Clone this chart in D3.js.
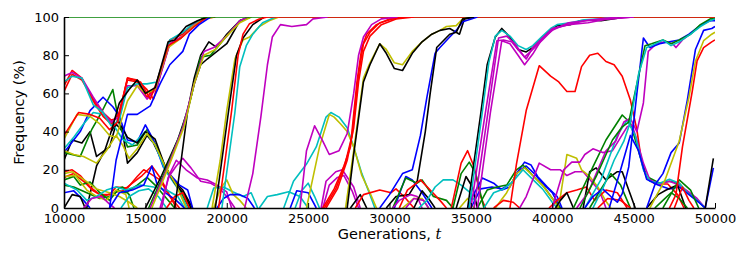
<!DOCTYPE html>
<html>
<head>
<meta charset="utf-8">
<script src="https://cdn.jsdelivr.net/npm/d3@7"></script>
<style>
  body { margin: 0; background: #fff; }
  svg { display: block; }
</style>
</head>
<body>
<script>
// allele frequency trajectories, t in thousands of generations, f in %
// each entry: [colour key, [[t, f], ...]]
const xTicks = [10000, 15000, 20000, 25000, 30000, 35000, 40000, 45000, 50000]
const yTicks = [0, 20, 40, 60, 80, 100]

const driftB = [
  ['k', [[10,25],[10.5,35.6],[11.1,34],[11.6,40],[12,27],[12.8,32],[13.2,44],[13.6,40],[13.9,23.5],[14.5,29],[15.1,38],[15.5,34],[16.1,23.5],[16.7,14.7],[17.3,9.4],[17.9,0]]],
  ['g', [[10,29],[11,27],[11.7,41],[12.3,50],[13,62],[13.4,44],[13.9,32],[14.5,33],[15.1,41],[15.7,32],[16.3,20],[17,11],[17.7,0]]],
  ['b', [[10,29],[11,40],[11.6,51],[12.4,58],[13,53],[13.4,48],[13.9,35.6],[14.5,34.5],[15,43.5],[15.5,35.6],[16.1,21.5],[17.1,12],[17.6,9.4],[17.9,0]]],
  ['c', [[10,31],[10.6,37],[11.2,44],[11.8,50],[12.4,49],[13,44],[13.6,36],[14.2,33],[15,40],[15.6,33],[16.2,20],[17,10],[17.6,0]]],
  ['k', [[11.4,0],[12,22],[12.5,30],[12.9,40],[13.3,46],[13.9,37],[14.5,34],[15,40],[15.6,36],[16.2,22],[16.8,13],[17.4,7],[17.8,0]]],
  ['y', [[10,30],[10.6,28],[11.2,27],[12,23.5],[12.6,30],[13.2,38],[13.6,33],[14,26],[14.5,31],[15.1,39],[15.6,33],[16.2,22],[16.9,12],[17.5,0]]]
]

const lowEarly = [
  ['r', [[10,19],[10.5,20],[11,17],[11.6,11],[12.2,7],[12.8,7],[13.2,11],[13.9,10.5],[14.5,16.5],[14.9,20],[15.3,18],[15.9,14.7],[16.5,6],[17.1,0]]],
  ['r', [[10,16],[10.6,18],[11.2,14],[11.8,9],[12.4,6],[13,8],[13.6,9],[14.2,13],[14.8,17],[15.4,22],[15.9,16],[16.4,8],[16.9,0]]],
  ['g', [[10,14.7],[10.6,16.5],[11,12],[11.6,13.6],[12.2,8],[12.8,4],[13.4,10.5],[13.6,11],[14,7],[14.3,0]]],
  ['g', [[10,12],[10.6,11],[11.4,8],[12.2,5],[12.8,6],[13.3,9],[13.8,8],[14.5,12],[15.1,16],[15.6,12],[16.2,6],[16.8,0]]],
  ['y', [[10,16.5],[10.7,17],[11.4,9.4],[12,6],[12.6,4],[13.2,9.4],[13.8,7],[14,0]]],
  ['y', [[10,18],[10.5,19],[11.2,15],[12,10],[12.8,8],[13.4,6],[14,3],[14.5,0]]],
  ['c', [[10,13],[10.8,9.4],[11.4,4],[12,6],[12.6,9.4],[13.2,11],[13.8,9.4],[14.7,12],[15.5,11],[16.3,9.4],[17,6],[17.4,0]]],
  ['b', [[10,8],[10.6,9],[11.2,4],[11.6,0]]],
  ['k', [[10,0],[10.5,7],[11,6],[11.3,0]]],
  ['m', [[11.2,0],[11.7,5],[12.3,6],[12.8,2],[13.1,0]]],
  ['b', [[12.8,0],[13.4,8],[14.2,9.4],[14.9,12],[15.4,22],[15.7,13],[16.3,7.5],[16.9,4],[17.4,0]]],
  ['c', [[13.5,0],[14,6],[14.6,9],[15.2,10],[15.8,6],[16.3,0]]],
  ['m', [[15.9,0],[16.5,18],[16.9,25],[17.5,20],[18.2,15.7],[18.8,14.7],[19.4,12],[20,8.4],[20.3,0]]],
  ['m', [[16,0],[16.4,16],[16.9,22],[17.3,26],[17.8,21],[18.4,14],[19,13],[19.6,10],[20.1,5],[20.5,0]]],
  ['r', [[16.3,0],[16.8,6],[17.3,8],[17.7,0]]],
  ['c', [[18.8,0],[19.2,10.5],[19.8,11],[20.4,8.4],[21,6],[21.5,8],[21.9,0]]],
  ['y', [[19.2,0],[19.6,10],[20,14.7],[20.4,7],[20.8,4],[21.2,0]]],
  ['b', [[19.4,0],[19.8,5],[20.2,7],[20.8,7],[21.3,5],[21.7,0]]]
]

const sweepA = [
  ['r', [[10,61],[10.5,70],[11.1,67],[11.8,57],[12.4,50],[12.9,46],[13.3,47],[13.9,67],[14.5,66],[15.1,58],[15.7,64],[16.5,86],[17.3,90],[17.9,95],[18.5,99],[19.3,100]]],
  ['r', [[10,64],[10.5,72],[11.1,68],[11.8,56],[12.4,48],[12.9,44],[13.4,50],[13.9,68],[14.5,67],[15.1,62],[15.5,57],[15.8,66],[16.5,88],[17.3,91],[17.9,96],[18.7,100]]],
  ['m', [[10,69],[10.5,71],[11.1,68],[11.8,58],[12.4,50],[12.9,45],[13.4,48],[13.9,64],[14.5,64],[15.1,57],[15.7,63],[16.5,86],[17.3,90],[18,96],[18.8,100]]],
  ['c', [[10,66],[10.5,69],[11.1,68],[11.8,54],[12.4,50],[12.9,43],[13.4,46],[13.9,63],[14.5,65],[15.1,65],[15.7,66],[16.5,88],[17.3,92],[18,97],[18.8,100]]],
  ['y', [[10,36],[10.8,49],[11.6,48],[12.2,44],[12.8,38],[13.2,37],[13.9,56],[14.5,64],[15,60],[15.6,62],[16.4,84],[17.2,89],[17.9,95],[18.6,99],[19.2,100]]],
  ['r', [[10,38],[10.9,50],[11.6,49],[12.2,47],[12.8,41],[13.3,45],[13.9,68],[14.7,66],[15.3,57],[15.7,66],[16.4,85],[17.2,89],[18,95],[18.8,100]]],
  ['k', [[12.9,40],[13.4,55],[14,62],[14.5,67],[15,60],[15.6,63],[16.4,87],[16.8,88],[17.5,95],[18.2,98],[18.8,100]]],
  ['b', [[12.8,0],[13.2,25],[13.9,49],[14.5,49],[15.3,53.5],[15.9,65],[16.5,75],[17.3,82],[17.7,91],[18.3,96],[19,100]]]
]

const sweepC = [
  ['k', [[15,0],[16,17],[17,36],[17.6,51],[18,68],[18.4,80],[18.9,87],[19.4,84],[20,91],[20.8,98],[21.4,100]]],
  ['k', [[16.8,0],[17.2,25],[17.6,51],[18,65],[18.4,75],[18.8,78],[19.4,82],[20,86],[20.8,98],[21.5,100]]],
  ['g', [[15.2,0],[16.2,19],[17.2,40],[17.8,58],[18.4,79],[19,80],[19.4,84],[20,90],[20.8,98],[21.4,100]]],
  ['m', [[15.3,0],[16.3,20],[17.3,42],[17.9,62],[18.6,82],[19.2,84],[20,90],[20.8,98],[21.3,100]]],
  ['y', [[15.4,0],[16.4,21],[17.4,43],[18,65],[18.6,80],[19.3,83],[20,90],[20.8,97],[21.5,100]]]
]

const fixedTop = [
  ['g', [[10,100],[50,100]]]
]

const sweepD = [
  ['y', [[19.1,0],[19.6,25],[20,51],[20.5,78],[21,88],[21.4,89.5],[22,95],[22.6,98],[23.2,100]]],
  ['k', [[19.3,0],[19.7,25],[20.1,50],[20.6,80],[21,89],[21.6,96],[22.3,100]]],
  ['c', [[19.7,0],[20.1,25],[20.5,50],[20.8,74],[21.2,85],[21.6,91],[22.2,97],[23,100]]],
  ['r', [[19.5,0],[19.9,25],[20.3,51],[20.7,80],[21,91],[21.4,96.5],[22,99],[22.5,100],[50,100]]]
]

const mid = [
  ['m', [[21.1,0],[21.6,18],[22.1,48],[22.5,75],[22.8,89.5],[23.3,96],[24,95],[24.9,96],[25.3,99],[26.2,100]]],
  ['c', [[22,0],[22.5,6],[23.1,7],[23.8,8.5],[24.5,6],[25,0]]],
  ['c', [[24.2,0],[24.6,9],[25,13],[25.4,6],[25.7,0]]],
  ['b', [[23.9,0],[24.3,9],[25,8],[25.5,0]]],
  ['c', [[23.5,0],[24.1,14],[24.9,23],[25.5,32],[26.1,47.6],[26.4,50],[26.9,47.6],[27.4,42],[27.8,32],[28.3,18],[28.8,7],[29.1,0]]],
  ['y', [[24.9,0],[25.3,16],[25.7,32],[26.3,49],[26.6,47.6],[27,44],[27.4,40],[27.8,32],[28.3,17],[28.8,8],[29.2,0]]],
  ['m', [[25.8,0],[26.1,14],[26.7,19],[27.1,20],[27.8,11],[28.2,0]]],
  ['m', [[25.9,0],[26.3,12],[26.8,16],[27.2,17],[27.7,9],[28.1,0]]],
  ['k', [[27.6,0],[28.2,7],[28.6,0]]],
  ['r', [[27.9,0],[28.4,7],[29.4,9.4],[30.1,8],[30.4,10],[31,5],[31.5,0]]],
  ['r', [[25.9,0],[26.6,10],[27.2,22],[27.6,32],[28,66],[28.3,84],[28.6,91],[29.2,96],[30,99],[31,100]]],
  ['r', [[26,0],[26.7,10],[27.3,24],[27.7,38],[28.1,70],[28.4,86],[28.8,92],[29.4,97],[30.2,99],[31,100]]],
  ['r', [[26.1,0],[26.8,10],[27.4,25],[27.8,42],[28.1,66],[28.4,82],[28.8,90],[29.5,96],[30.4,99],[31.5,100]]],
  ['m', [[24.5,0],[24.9,30],[25.4,43],[25.9,35],[26.3,28],[26.9,30],[27.4,39],[27.8,60],[28.1,80],[28.4,89.5],[28.9,96],[29.5,99],[30.5,100]]],
  ['y', [[27.3,0],[27.8,30],[28.4,68],[28.8,76],[29.4,86],[29.8,83],[30.3,76],[30.8,75],[31.4,82],[32,87],[32.6,91],[33.1,93],[33.5,95],[34.1,95.5],[34.5,99],[35,100]]],
  ['k', [[27.4,0],[27.8,28],[28.4,66],[28.8,75],[29.4,86],[29.8,81],[30.3,73],[30.8,72],[31.4,81],[32,87],[32.6,91],[33.1,93],[33.7,94],[34.3,91],[34.6,99],[35.2,100]]],
  ['b', [[29.4,0],[30,7],[30.8,18],[31.4,20],[31.9,38],[32.3,58],[32.8,81],[33.1,84],[33.7,89.5],[34.1,93],[34.5,97.5],[35.4,100]]],
  ['k', [[29.8,0],[30.4,6],[31.2,7],[31.7,14],[32.2,40],[32.5,60],[32.9,84],[33.7,91],[34.1,92],[34.5,99],[35.2,100]]]
]

const lowMid = [
  ['b', [[30.3,0],[31,16.5],[31.4,14.7],[32,8],[32.6,0]]],
  ['g', [[30.2,0],[30.5,6],[31,15.7],[31.7,13],[32,14.7],[32.7,6],[33.5,4],[33.9,0]]],
  ['r', [[30.6,0],[31.1,9.4],[31.5,12],[31.9,14.7],[32.5,9.4],[33.1,4],[33.5,0]]],
  ['m', [[30.2,0],[30.6,4],[31.3,7],[31.7,6],[32,0]]],
  ['y', [[30.8,0],[31.5,5],[32,5],[32.4,0]]],
  ['m', [[31,0],[31.5,5],[32.1,4],[32.4,0]]],
  ['k', [[31.5,0],[32,9],[32.4,5],[32.8,0]]],
  ['c', [[31.8,0],[32.3,4],[32.8,11],[33.3,14.7],[33.9,14.7],[34.4,12],[34.9,8.4],[35.5,0]]],
  ['r', [[33.8,0],[34.4,23.5],[34.8,30],[35.2,21.5],[35.6,6],[35.9,0]]],
  ['g', [[33.9,0],[34.4,18],[34.9,24],[35.3,18],[35.8,0]]],
  ['k', [[34.1,0],[34.7,16.5],[35.1,11],[35.4,0]]],
  ['y', [[34.3,0],[34.8,5],[35.2,0]]],
  ['b', [[34.8,0],[35.1,6],[35.7,15.7],[36.4,13],[36.9,9.4],[37.4,11],[37.8,18],[38.3,24],[38.7,22.5],[39.1,16.5],[39.7,11],[40.3,6],[40.6,0]]],
  ['b', [[35,0],[35.6,10],[36.3,11],[36.9,10],[37.5,13],[37.9,19],[38.4,22],[38.9,18],[39.4,13],[40,8],[40.5,0]]],
  ['g', [[35.4,0],[36,9.4],[36.6,11],[37.2,12],[37.8,20],[38.2,22.5],[38.8,17],[39.5,11],[40.1,4],[40.5,0]]],
  ['y', [[36.5,0],[37.2,8],[37.8,18],[38.3,21],[38.8,17],[39.4,12],[40,5],[40.4,0]]],
  ['c', [[35.8,0],[36.4,8],[37,10],[37.6,14],[38.2,20],[38.8,15],[39.4,10],[40,3],[40.3,0]]],
  ['r', [[36.4,0],[37,4],[37.6,3],[38,0]]],
  ['m', [[38,0],[38.4,6],[39.2,23.5],[39.9,20],[40.5,20],[40.9,17],[41.4,19],[41.9,19],[42.4,14],[42.9,9],[43.3,0]]],
  ['y', [[40.3,0],[40.5,6],[40.9,28],[41.5,26],[41.8,20],[42.3,16.5],[42.8,11],[43.3,3.5],[43.6,0]]],
  ['r', [[39.8,0],[40.3,4],[40.9,8],[41.5,9.4],[42.1,11],[42.6,4],[43.3,9.4],[44,8],[44.6,0]]],
  ['k', [[40.2,0],[40.5,4],[40.9,8],[41.3,0]]],
  ['k', [[41.9,0],[42.3,19],[42.7,21],[43.3,14.7],[44,19],[44.3,19],[44.7,9.4],[45.1,0]]],
  ['g', [[42.3,0],[43,10],[43.6,18],[44.2,12],[44.8,0]]],
  ['r', [[42.8,0],[43.4,5],[44.2,4],[44.8,0]]]
]

const sweepI = [
  ['k', [[34.8,0],[35.6,49],[36,75],[36.5,89.5],[36.9,94],[37.4,89.5],[37.9,83],[38.4,81.7],[38.8,84],[39.4,89.5],[39.9,93],[40.3,95.5],[41.1,96],[41.7,98],[42.3,98.5],[43,98],[43.7,99],[44.5,100]]],
  ['c', [[34.9,0],[35.7,50],[36.1,76],[36.5,90],[36.9,93],[37.4,90],[37.9,85],[38.4,83],[38.8,85],[39.4,90],[39.9,94],[40.3,96],[41.1,97],[42,98.5],[43,99],[44,100]]],
  ['m', [[35,0],[35.8,45],[36.6,87.6],[37,88],[37.5,87],[38,82],[38.4,78],[38.8,84],[39.4,89],[40,94],[41,96],[42,98],[43,99],[44,100]]],
  ['m', [[35.4,0],[36.2,50],[36.9,87.6],[37.4,86],[37.9,80],[38.3,75],[38.8,80.6],[39.4,89],[40,93],[41,97],[42,98],[43.5,99],[45,100]]],
  ['m', [[35.2,0],[36,47],[36.7,89],[37.2,90],[37.7,86],[38.3,79],[38.8,83],[39.4,88],[40.1,94],[41,96],[42.2,97],[43.4,99],[45,100]]]
]

const late = [
  ['r', [[37.4,0],[37.8,23],[38.4,51],[39.2,74.5],[39.9,69],[40.4,66],[40.9,61],[41.4,61],[41.8,74],[42.3,80],[42.8,81],[43.3,76.7],[43.8,75],[44.3,69],[44.8,56.5],[45.2,41],[45.5,23.5],[45.8,16],[46.3,12.6],[47.1,12.6],[47.7,7],[48.1,0]]],
  ['g', [[41.3,0],[42.5,21.5],[43.3,35.6],[44.3,48.7],[44.8,44.5],[45.4,27],[45.8,16.5],[46.6,13],[47.2,14],[47.8,13],[48.2,9],[48.8,5],[49.4,0]]],
  ['m', [[40,0],[40.7,20],[41.2,24],[41.7,24],[42,28],[42.5,31],[43.1,29],[43.7,30],[44.2,37],[44.6,42.5],[44.9,43.5],[45.2,35.6],[45.6,23.5],[46,14.7],[46.6,12.6],[47.2,14],[47.8,12],[48.3,9],[48.9,5],[49.4,0]]],
  ['c', [[42,0],[43,15],[44,38],[44.6,46],[45.1,38],[45.6,20],[46,14],[46.6,13],[47.2,15],[47.8,13],[48.3,8],[48.9,4],[49.4,0]]],
  ['b', [[43.5,0],[44.2,20],[44.8,38],[45.3,30],[45.8,15],[46.5,12],[47.2,10],[47.8,11],[48.4,7],[49,3],[49.4,0]]],
  ['m', [[41.5,0],[42.2,8],[42.8,20],[43.3,30],[43.9,35],[44.4,45],[44.8,47],[45.2,40],[45.6,55],[45.9,82],[46.4,86],[46.9,87],[47.4,86],[47.6,84],[48,88],[48.6,92],[49.2,96],[49.7,98],[50,99]]],
  ['b', [[42,0],[42.5,6],[43.1,10],[43.6,6],[44,3],[44.3,7.5],[44.7,21.5],[45.2,60],[45.6,89],[46,84],[46.6,86],[47.2,87],[47.8,88],[48.4,91],[49,95],[49.6,98],[50,98]]],
  ['g', [[41.7,0],[42.7,16.5],[43.7,35.6],[44.3,42.5],[44.7,45],[45.2,65],[45.7,85],[46.1,86],[46.8,88],[47.3,86],[47.8,88],[48.5,91],[49.1,96],[49.7,99],[50,99]]],
  ['c', [[42.5,0],[43.2,12],[43.8,25],[44.4,35],[44.8,45],[45.3,70],[45.8,84],[46.1,85],[46.8,88],[47.3,85],[47.8,87],[48.5,91],[49.1,95],[49.7,98],[50,99]]],
  ['k', [[45.8,0],[46.5,7],[47,9.4],[47.7,12],[48.2,0]]],
  ['g', [[46.8,0],[47.2,6],[47.8,14.7],[48.5,9.4],[49,0]]],
  ['g', [[46.3,0],[46.8,4],[47.3,8],[47.8,5],[48.3,0]]],
  ['r', [[47.5,0],[48,11],[48.4,4],[48.7,0]]],
  ['b', [[45.8,0],[46.3,12],[46.8,18],[47.3,29],[47.8,34],[48.3,56.5],[48.8,83],[49.3,93],[49.8,94],[50,95]]],
  ['y', [[46,0],[46.5,8],[46.9,14],[47.8,35],[48.4,58],[48.8,77],[49.3,87.6],[49.8,91],[50,92]]],
  ['r', [[47.2,0],[47.6,7],[48,32],[48.6,61],[48.9,77],[49.3,84],[49.8,87],[50,88]]],
  ['b', [[49.4,0],[49.9,21]]],
  ['k', [[49.4,0],[49.9,26]]]
]

const palette = {b: '#0000ff', g: '#008000', r: '#ff0000', c: '#00bfbf', m: '#bf00bf', y: '#bfbf00', k: '#000000'}

const allSeries = [].concat(driftB, lowEarly, sweepA, sweepC, fixedTop, sweepD, mid, lowMid, sweepI, late)

const W = 747, H = 261
const margin = {top: 17, left: 64, bottom: 53, right: 32}

let x = d3.scaleLinear().domain([10000, 50000]).range([margin.left, W - margin.right])
let y = d3.scaleLinear().domain([0, 100]).range([H - margin.bottom, margin.top])

let svg = d3.select('body').append('svg')
            .attr('width', W)
            .attr('height', H)
            .style('font-family', '"DejaVu Sans", sans-serif')

svg.append('clipPath').attr('id', 'plot')
   .append('rect')
   .attr('x', x(10000)).attr('y', y(100))
   .attr('width', x(50000) - x(10000)).attr('height', y(0) - y(100))

let line = d3.line().x(d => x(d[0] * 1000)).y(d => y(d[1]))

svg.append('g').attr('clip-path', 'url(#plot)')
   .selectAll('path')
   .data(allSeries)
   .enter()
   .append('path')
   .attr('d', d => line(d[1]))
   .attr('fill', 'none')
   .attr('stroke', d => palette[d[0]])
   .attr('stroke-width', 1.6)
   .attr('stroke-linejoin', 'round')

let xAxis = d3.axisBottom(x).tickValues(xTicks).tickFormat(d3.format('d')).tickSizeInner(-5).tickSizeOuter(0).tickPadding(6)
let yAxis = d3.axisLeft(y).tickValues(yTicks).tickSizeInner(-5).tickSizeOuter(0).tickPadding(5)

let gx = svg.append('g').attr('transform', `translate(0, ${y(0)})`).call(xAxis)
let gy = svg.append('g').attr('transform', `translate(${x(10000)}, 0)`).call(yAxis)

for (let g of [gx, gy]) {
  g.select('.domain').attr('stroke', '#000').attr('stroke-width', 1.6)
  g.selectAll('.tick line').attr('stroke', '#000').attr('stroke-width', 1)
  g.selectAll('.tick text').attr('fill', '#000').style('font-size', '13px').style('font-family', '"DejaVu Sans", sans-serif')
}

svg.append('text')
   .attr('transform', `translate(24, ${(y(0) + y(100)) / 2}) rotate(-90)`)
   .attr('text-anchor', 'middle')
   .style('font-size', '14.5px')
   .text('Frequency (%)')

let xl = svg.append('text')
   .attr('x', (x(10000) + x(50000)) / 2)
   .attr('y', 238.5)
   .attr('text-anchor', 'middle')
   .style('font-size', '14.5px')
xl.append('tspan').text('Generations, ')
xl.append('tspan').style('font-style', 'italic').style('font-family', '"DejaVu Serif", serif').text('t')
</script>
</body>
</html>
